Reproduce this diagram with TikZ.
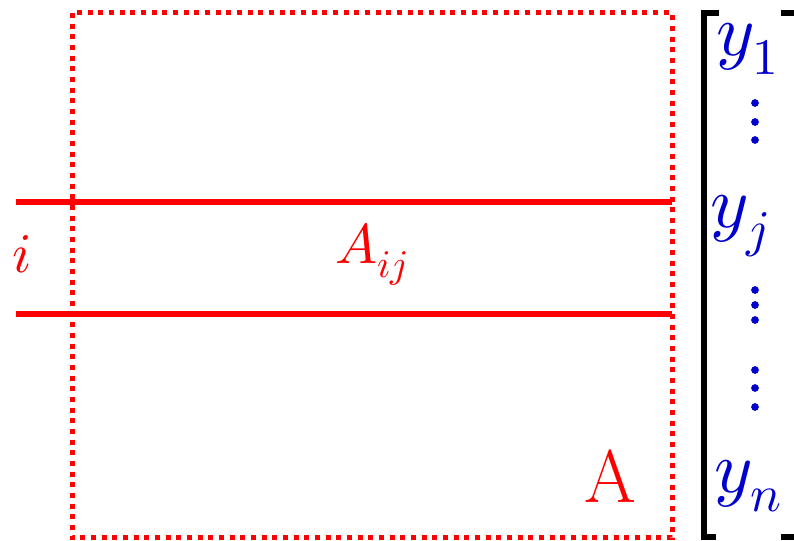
\documentclass[tikz,border=0pt]{standalone}
\usepackage{unicode-math}
\usepackage{xcolor}
\usetikzlibrary{positioning}
\definecolor{rowred}{RGB}{255,0,0}
\definecolor{vecblue}{RGB}{0,0,205}

\begin{document}
\begin{tikzpicture}[x=0.75pt, y=-0.75pt, every node/.style={inner sep=0pt, anchor=base west},
  rowline/.style={rowred, line width=5.2pt},
  matbox/.style={rowred, line width=3.75pt, dash pattern=on 3.75pt off 4.25pt},
  brack/.style={black, line width=4.7pt},
  bigtxt/.style={font=\fontsize{42}{50}\selectfont},
  vectxt/.style={text=vecblue, font=\fontsize{55}{66}\selectfont}]
\useasboundingbox (0,0) rectangle (794,541);
% matrix A
\draw[matbox] (72,13) rectangle (672,538);
\coordinate (r1w) at (16,202); \coordinate (r1e) at (672,202);
\coordinate (r2w) at (16,314); \coordinate (r2e) at (672,314);
\draw[rowline] (r1w) -- (r1e);
\draw[rowline] (r2w) -- (r2e);
\node[bigtxt, text=rowred] (rowi) at (12,273) {$i$};
\node[bigtxt, text=rowred] (aij) at (335,264) {$A_{ij}$};
\node[text=rowred, font=\fontsize{56}{66}\selectfont] (amat) at (584,503) {A};
% vector y
\draw[brack] (719,13) -- (704,13) -- (704,537) -- (716,537);
\draw[brack] (781,13) -- (804,13) -- (804,537) -- (781,537);
\node[vectxt] (y1) at (716,56) {$y_1$};
\node[vectxt] (yj) at (710,228) {$y_j$};
\node[vectxt] (yn) at (714,493) {$y_n$};
\foreach \dy in {103,122,140,290,305,320,370,388,407}
  \fill[vecblue] (755,\dy) circle[radius=2.9pt];
\end{tikzpicture}
\end{document}
